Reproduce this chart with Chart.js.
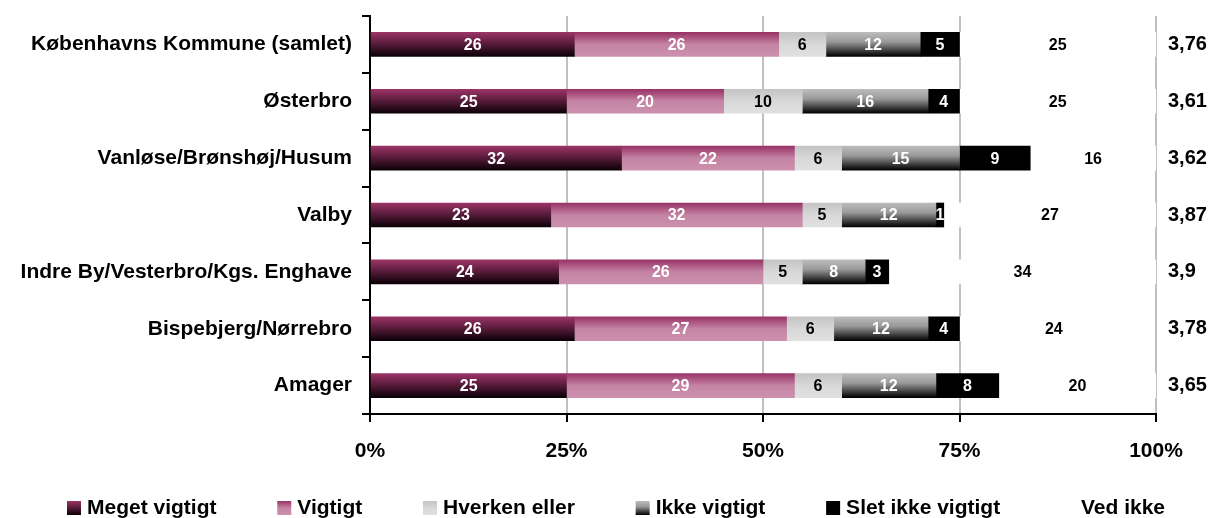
<!DOCTYPE html>
<html>
<head>
<meta charset="utf-8">
<script src="https://cdn.jsdelivr.net/npm/chart.js@4.4.0/dist/chart.umd.min.js"></script>
<style>
  body { margin: 0; background: #fff; }
</style>
</head>
<body>
<canvas id="myChart" width="1213" height="518"></canvas>
<script>
// Data
const bydele = ['Københavns Kommune (samlet)', 'Østerbro', 'Vanløse/Brønshøj/Husum', 'Valby',
  'Indre By/Vesterbro/Kgs. Enghave', 'Bispebjerg/Nørrebro', 'Amager'];
const gennemsnit = ['3,76', '3,61', '3,62', '3,87', '3,9', '3,78', '3,65'];

const megetVigtigt = [26, 25, 32, 23, 24, 26, 25];
const vigtigt = [26, 20, 22, 32, 26, 27, 29];
const hverkenEller = [6, 10, 6, 5, 5, 6, 6];
const ikkeVigtigt = [12, 16, 15, 12, 8, 12, 12];
const sletIkkeVigtigt = [5, 4, 9, 1, 3, 4, 8];
const vedIkke = [25, 25, 16, 27, 34, 24, 20];

const xTicks = [0, 25, 50, 75, 100];

const FONT = 'Liberation Sans';
const BAR_H = 24;

// vertikal gradient for hver bjælke
function gradient(stops) {
  return function(context) {
    const chart = context.chart;
    if (!chart.chartArea || context.dataIndex === undefined) return stops[0][1];
    const y = chart.scales.y.getPixelForValue(context.dataIndex);
    const g = chart.ctx.createLinearGradient(0, y - BAR_H / 2, 0, y + BAR_H / 2);
    stops.forEach(s => g.addColorStop(s[0], s[1]));
    return g;
  };
}

const farver = [
  [[0, '#9b3466'], [0.45, '#5c1d3d'], [1, '#0a0006']],
  [[0, '#993366'], [0.5, '#c484a4'], [1, '#cc90ae']],
  [[0, '#c4c4c4'], [0.5, '#d8d8d8'], [1, '#e0e0e0']],
  [[0, '#bcbcbc'], [0.4, '#999999'], [1, '#000000']],
  [[0, '#000000'], [1, '#000000']],
  [[0, '#ffffff'], [1, '#ffffff']]
];
const tekstFarver = ['#fff', '#fff', '#000', '#fff', '#fff', '#000'];

// Tal i bjælkerne
const labelPlugin = {
  id: 'barLabels',
  afterDatasetsDraw(chart) {
    const ctx = chart.ctx;
    ctx.save();
    ctx.font = 'bold 16px "' + FONT + '"';
    ctx.textAlign = 'center';
    ctx.textBaseline = 'middle';
    chart.data.datasets.forEach((ds, i) => {
      const meta = chart.getDatasetMeta(i);
      meta.data.forEach((bar, j) => {
        ctx.fillStyle = tekstFarver[i];
        ctx.fillText(ds.data[j], (bar.x + bar.base) / 2, bar.y + 1);
      });
    });
    ctx.restore();
  }
};

// Forklaring i bunden
const legendPlugin = {
  id: 'bundForklaring',
  afterDraw(chart) {
    const ctx = chart.ctx;
    const startX = 67, slutX = 1165, yMid = 508, box = 14, mellem = 6;
    ctx.save();
    ctx.font = 'bold 21px "' + FONT + '"';
    ctx.textBaseline = 'middle';
    ctx.textAlign = 'left';
    const ds = chart.data.datasets;
    const bredder = ds.map(d => ctx.measureText(d.label).width);
    const total = bredder.reduce((a, b) => a + b, 0) + ds.length * (box + mellem);
    const gap = (slutX - startX - total) / (ds.length - 1);
    let x = startX;
    ds.forEach((d, i) => {
      const g = ctx.createLinearGradient(0, yMid - box / 2, 0, yMid + box / 2);
      farver[i].forEach(s => g.addColorStop(s[0], s[1]));
      ctx.fillStyle = g;
      ctx.fillRect(x, yMid - box / 2, box, box);
      ctx.fillStyle = '#000';
      ctx.fillText(d.label, x + box + mellem, yMid);
      x += box + mellem + bredder[i] + gap;
    });
    ctx.restore();
  }
};

const serier = [megetVigtigt, vigtigt, hverkenEller, ikkeVigtigt, sletIkkeVigtigt, vedIkke];
const navne = ['Meget vigtigt', 'Vigtigt', 'Hverken eller', 'Ikke vigtigt', 'Slet ikke vigtigt', 'Ved ikke'];

const data = {
  labels: bydele,
  datasets: serier.map((s, i) => ({
    label: navne[i],
    data: s,
    backgroundColor: gradient(farver[i]),
    borderWidth: 0,
    barThickness: BAR_H
  }))
};

// fast bredde og ingen ekstra top/bund-luft fra tekst
function fastBredde(w) {
  return s => { s.width = w; s.paddingTop = 0; s.paddingBottom = 0; };
}

const options = {
  responsive: false,
  animation: false,
  indexAxis: 'y',
  layout: { padding: { top: 16, bottom: 44, left: 0, right: 0 } },
  plugins: {
    legend: { display: false },
    tooltip: { enabled: false }
  },
  scales: {
    x: {
      stacked: true,
      min: 0,
      max: 100,
      afterBuildTicks: s => { s.ticks = xTicks.map(v => ({ value: v })); },
      afterFit: s => { s.height = 60; },
      grid: { color: '#c0c0c0', lineWidth: 2, tickColor: '#000', tickLength: 8 },
      border: { color: '#000', width: 2 },
      ticks: {
        callback: v => v + '%',
        color: '#000',
        padding: 17,
        maxRotation: 0,
        font: { family: FONT, size: 21, weight: 'bold' }
      }
    },
    y: {
      stacked: true,
      afterFit: fastBredde(370),
      grid: { offset: true, drawOnChartArea: false, color: '#000', lineWidth: 2, tickLength: 8 },
      border: { color: '#000', width: 2 },
      ticks: {
        color: '#000',
        padding: 10,
        font: { family: FONT, size: 21, weight: 'bold' }
      }
    },
    y2: {
      type: 'category',
      position: 'right',
      labels: gennemsnit,
      offset: true,
      afterFit: fastBredde(57),
      grid: { display: false, drawTicks: false },
      border: { display: false },
      ticks: {
        autoSkip: false,
        color: '#000',
        padding: 12,
        font: { family: FONT, size: 20, weight: 'bold' }
      }
    }
  }
};

new Chart(document.getElementById('myChart').getContext('2d'), {
  type: 'bar',
  data: data,
  options: options,
  plugins: [labelPlugin, legendPlugin]
});
</script>
</body>
</html>
